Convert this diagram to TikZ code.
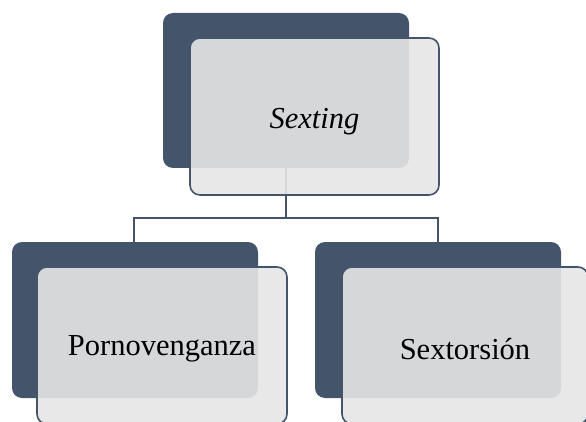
\documentclass[tikz,border=0pt]{standalone}
\usepackage{fontspec}
\setmainfont{Liberation Serif}
\definecolor{navy}{HTML}{44546A}
\definecolor{lightbox}{HTML}{E6E6E6}
\tikzset{
  backbox/.style={fill=navy, draw=none, rounded corners=10pt},
  frontbox/.style={fill=lightbox, fill opacity=0.9, draw=navy, line width=1.6pt, rounded corners=10pt, text opacity=1},
  conn/.style={draw=navy, line width=1.6pt},
  lbl/.style={font=\fontsize{30.5}{34}\selectfont, text=black}
}
\begin{document}
\begin{tikzpicture}[x=1pt,y=-1pt]
\useasboundingbox (0,0) rectangle (586,422);
% back boxes
\path[backbox] (163,13) rectangle (409,168);
\path[backbox] (12,242) rectangle (258,398);
\path[backbox] (315,242) rectangle (561,398);
\coordinate (topb) at (286,168);
\coordinate (jn) at (286,218);
\coordinate (lj) at (134,218);
\coordinate (rj) at (438,218);
\coordinate (lt) at (134,242);
\coordinate (rt) at (438,242);
\draw[conn] (topb) -- (jn);
\draw[conn] (lt) -- (lj) -- (rj) -- (rt);
% front boxes
\path[frontbox] (190,38) rectangle (439,195);
\path[frontbox] (37,267) rectangle (287,424);
\path[frontbox] (342,267) rectangle (588,424);
\node[lbl] (sexting) at (314.5,122) {\itshape Sexting};
\node[lbl] (porno) at (162,349) {Pornovenganza};
\node[lbl] (sext) at (465,349) {Sextorsión};
\end{tikzpicture}
\end{document}
